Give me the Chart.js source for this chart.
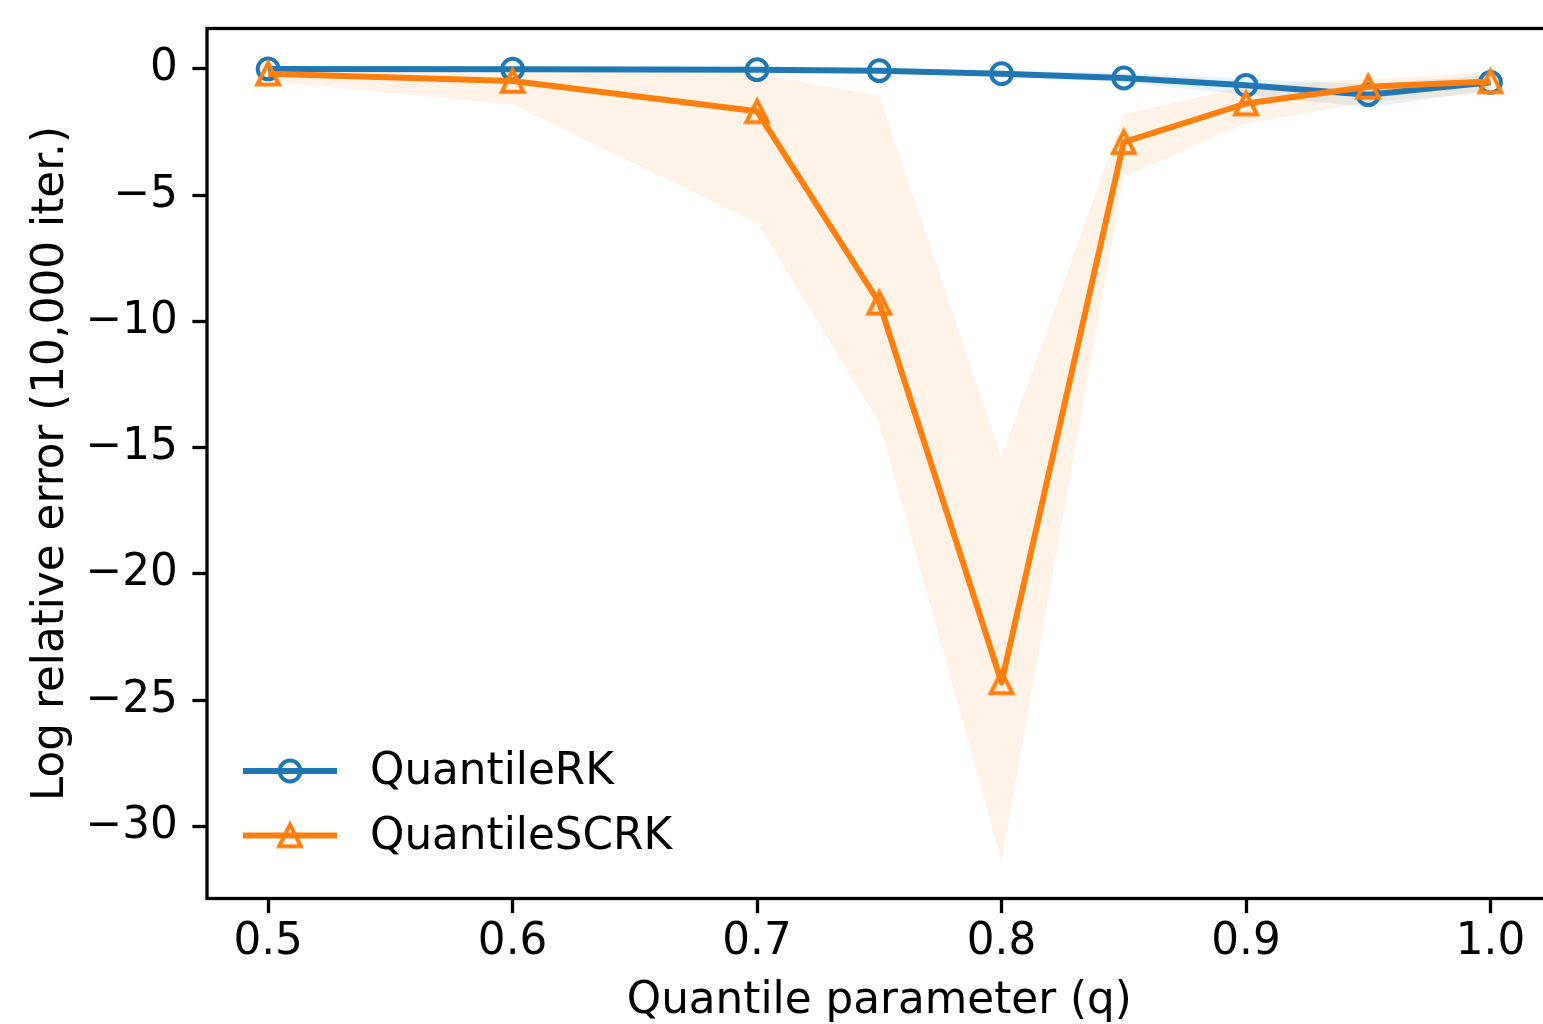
<!DOCTYPE html>
<html>
<head>
<meta charset="utf-8">
<script src="https://cdn.jsdelivr.net/npm/chart.js@4.4.1/dist/chart.umd.min.js"></script>
<style>
  html, body { margin: 0; padding: 0; background: #fff; overflow: hidden; }
  #wrap { width: 1543px; height: 1024px; overflow: hidden; }
</style>
</head>
<body>
<div id="wrap"><canvas id="chart" width="1568" height="1024"></canvas></div>
<script>
// quantile parameter values (x)
const qValues = [0.5, 0.6, 0.7, 0.75, 0.8, 0.85, 0.9, 0.95, 1.0];

// QuantileRK: mean and band
const rkMean = [0.0, -0.01, -0.03, -0.07, -0.19, -0.36, -0.65, -1.02, -0.53];
const rkLow  = [-0.05, -0.06, -0.08, -0.15, -0.30, -0.55, -1.02, -1.53, -0.85];
const rkHigh = [0.05, 0.04, 0.02, 0.0, -0.08, -0.15, -0.40, -0.60, -0.25];

// QuantileSCRK: mean and band
const scrkMean = [-0.19, -0.48, -1.68, -9.26, -24.29, -2.90, -1.37, -0.71, -0.50];
const scrkLow  = [-0.49, -1.41, -6.09, -14.0, -31.35, -4.25, -2.16, -1.30, -0.95];
const scrkHigh = [0.05, -0.05, -0.20, -1.06, -15.39, -1.81, -0.69, -0.40, -0.15];

const xTicks = [0.5, 0.6, 0.7, 0.8, 0.9, 1.0];
const yTicks = [0, -5, -10, -15, -20, -25, -30];

const BLUE = '#1f77b4';
const ORANGE = '#ff7f0e';
const FONT = 'DejaVu Sans';
const FS = 43.7;

const pts = arr => arr.map((v, i) => ({ x: qValues[i], y: v }));

// open triangle marker like matplotlib '^'
function makeTriangle(color) {
  const c = document.createElement('canvas');
  c.width = 40; c.height = 40;
  const g = c.getContext('2d');
  const h = 10.8;
  g.beginPath();
  g.moveTo(20, 20 - h);
  g.lineTo(20 - h, 20 + h);
  g.lineTo(20 + h, 20 + h);
  g.closePath();
  g.lineWidth = 4;
  g.lineJoin = 'miter';
  g.strokeStyle = color;
  g.stroke();
  return c;
}
const triMarker = makeTriangle(ORANGE);

const framePlugin = {
  id: 'frame',
  afterDraw(chart) {
    const { ctx, chartArea: a } = chart;
    ctx.save();
    ctx.strokeStyle = '#000';
    ctx.lineWidth = 3.3;
    ctx.strokeRect(a.left, a.top, a.right - a.left, a.bottom - a.top);
    ctx.restore();
  }
};

const legendPlugin = {
  id: 'mplLegend',
  afterDraw(chart) {
    const { ctx, chartArea: a } = chart;
    const items = [
      { label: 'QuantileRK', color: BLUE, marker: 'circle', dy: -127.5 },
      { label: 'QuantileSCRK', color: ORANGE, marker: triMarker, dy: -63 }
    ];
    ctx.save();
    items.forEach(it => {
      const y = a.bottom + it.dy;
      const x0 = a.left + 36, x1 = a.left + 130, xm = a.left + 83;
      ctx.strokeStyle = it.color;
      ctx.lineWidth = 6;
      ctx.beginPath();
      ctx.moveTo(x0, y);
      ctx.lineTo(x1, y);
      ctx.stroke();
      ctx.lineWidth = 4;
      ctx.fillStyle = 'rgba(0,0,0,0)';
      Chart.helpers.drawPoint(ctx, { pointStyle: it.marker, radius: 10.4, borderWidth: 4, rotation: 0 }, xm, y);
      ctx.fillStyle = '#000';
      ctx.font = FS + 'px "' + FONT + '"';
      ctx.textBaseline = 'middle';
      ctx.textAlign = 'left';
      ctx.fillText(it.label, a.left + 163, y + 2);
    });
    ctx.restore();
  }
};

new Chart(document.getElementById('chart'), {
  type: 'line',
  data: {
    datasets: [
      { data: pts(rkLow), borderWidth: 0, pointRadius: 0, fill: false, order: 4 },
      { data: pts(rkHigh), borderWidth: 0, pointRadius: 0, fill: 0,
        backgroundColor: 'rgba(31,119,180,0.1)', order: 4 },
      { data: pts(scrkLow), borderWidth: 0, pointRadius: 0, fill: false, order: 3 },
      { data: pts(scrkHigh), borderWidth: 0, pointRadius: 0, fill: 2,
        backgroundColor: 'rgba(255,127,14,0.1)', order: 3 },
      { label: 'QuantileRK', data: pts(rkMean), borderColor: BLUE, borderWidth: 6,
        borderJoinStyle: 'round', pointStyle: 'circle', pointRadius: 10.4,
        pointBorderWidth: 4, pointBorderColor: BLUE, pointBackgroundColor: 'rgba(0,0,0,0)',
        fill: false, order: 2 },
      { label: 'QuantileSCRK', data: pts(scrkMean), borderColor: ORANGE, borderWidth: 6,
        borderJoinStyle: 'round', pointStyle: triMarker, pointRadius: 10.4,
        fill: false, order: 1 }
    ]
  },
  options: {
    responsive: false,
    animation: false,
    devicePixelRatio: 1,
    layout: { padding: { top: 28.5, right: 0, bottom: 0, left: 0 } },
    plugins: { legend: { display: false }, tooltip: { enabled: false } },
    elements: { line: { tension: 0 } },
    scales: {
      x: {
        type: 'linear',
        min: 0.475, max: 1.025,
        afterBuildTicks: s => { s.ticks = xTicks.map(v => ({ value: v })); },
        afterFit: s => { s.height = 125.5; s.paddingLeft = 0; s.paddingRight = 0; },
        ticks: {
          color: '#000', padding: 8, maxRotation: 0, autoSkip: false,
          font: { family: FONT, size: FS, lineHeight: 1 },
          callback: v => v.toFixed(1)
        },
        grid: { drawOnChartArea: false, drawTicks: true, tickLength: 14.6, tickWidth: 3.3, tickColor: '#000' },
        border: { display: false },
        title: {
          display: true, text: 'Quantile parameter (q)', color: '#000',
          font: { family: FONT, size: FS, lineHeight: 1 },
          padding: { top: 0, bottom: 1 }
        }
      },
      y: {
        type: 'linear',
        min: -32.85, max: 1.6,
        afterBuildTicks: s => { s.ticks = yTicks.map(v => ({ value: v })); },
        afterFit: s => { s.width = 207; s.paddingTop = 0; s.paddingBottom = 0; },
        ticks: {
          color: '#000', padding: 14.6, autoSkip: false,
          font: { family: FONT, size: FS, lineHeight: 1 },
          callback: v => (v < 0 ? '\u2212' + Math.abs(v) : String(v))
        },
        grid: { drawOnChartArea: false, drawTicks: true, tickLength: 14.6, tickWidth: 3.3, tickColor: '#000' },
        border: { display: false },
        title: {
          display: true, text: 'Log relative error (10,000 iter.)', color: '#000',
          font: { family: FONT, size: FS, lineHeight: 1 },
          padding: { top: 30, bottom: 0 }
        }
      }
    }
  },
  plugins: [framePlugin, legendPlugin]
});
</script>
</body>
</html>
